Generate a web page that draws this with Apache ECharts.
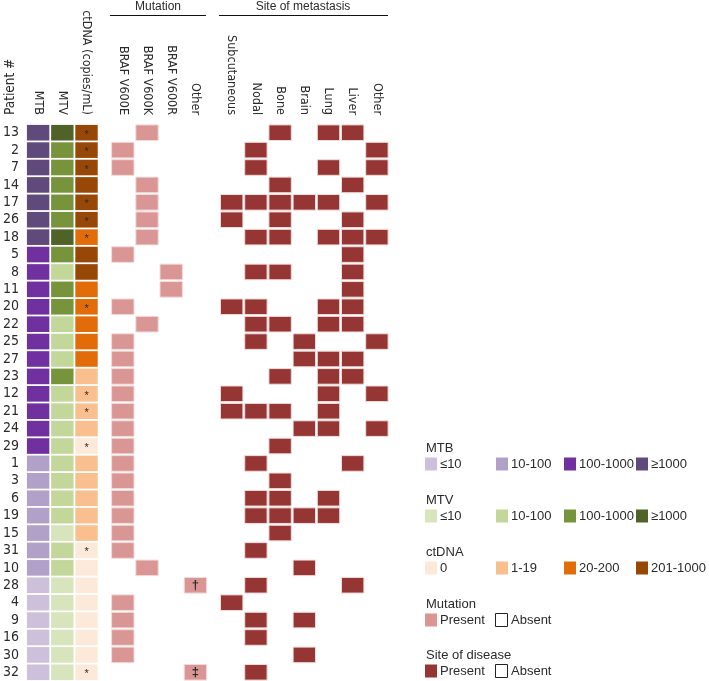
<!DOCTYPE html>
<html>
<head>
<meta charset="utf-8">
<script src="https://cdn.jsdelivr.net/npm/echarts@6/dist/echarts.min.js"></script>
<style>
  html, body { margin: 0; padding: 0; background: #fff; }
  #main { width: 709px; height: 681px; }
</style>
</head>
<body>
<div id="main"></div>
<script>
  // patients, top to bottom
  const patients = ['13','2','7','14','17','26','18','5','8','11','20','22','25','27','23','12',
                    '21','24','29','1','3','6','19','15','31','10','28','4','9','16','30','32'];
  // level 1..4 = first..last legend bin
  const mtbLevel   = [4,4,4,4,4,4,4,3,3,3,3,3,3,3,3,3,3,3,3,2,2,2,2,2,2,2,1,1,1,1,1,1];
  const mtvLevel   = [4,3,3,3,3,3,4,3,2,3,3,2,2,2,3,2,2,2,2,2,2,2,2,1,2,2,1,1,1,1,1,1];
  const ctdnaLevel = [4,4,4,4,4,4,3,4,4,3,3,3,3,3,2,2,2,2,1,2,2,2,2,2,1,1,1,1,1,1,1,1];
  const ctdnaStar  = ['13','2','7','17','26','18','20','12','21','29','31','32'];
  const mutation   = ['V600K','V600E','V600E','V600K','V600K','V600K','V600K','V600E','V600R','V600R',
                      'V600E','V600K','V600E','V600E','V600E','V600E','V600E','V600E','V600E','V600E',
                      'V600E','V600E','V600E','V600E','V600E','V600K','Other','V600E','V600E','V600E',
                      'V600E','Other'];
  const mutationNote = [['28','†'], ['32','‡']];
  const sites = [
    ['Bone','Lung','Liver'],
    ['Nodal','Other'],
    ['Nodal','Lung','Other'],
    ['Bone','Liver'],
    ['Subcutaneous','Nodal','Bone','Brain','Lung','Other'],
    ['Subcutaneous','Bone','Liver'],
    ['Nodal','Bone','Lung','Liver','Other'],
    ['Liver'],
    ['Nodal','Bone','Liver'],
    ['Liver'],
    ['Subcutaneous','Nodal','Lung','Liver'],
    ['Nodal','Bone','Lung','Liver'],
    ['Nodal','Brain','Other'],
    ['Brain','Lung','Liver'],
    ['Bone','Lung','Liver'],
    ['Subcutaneous','Lung','Other'],
    ['Subcutaneous','Nodal','Bone','Lung'],
    ['Brain','Lung','Other'],
    ['Bone'],
    ['Nodal','Liver'],
    ['Bone'],
    ['Nodal','Bone','Lung'],
    ['Nodal','Bone','Brain','Lung'],
    ['Bone'],
    ['Nodal'],
    ['Brain'],
    ['Nodal','Liver'],
    ['Subcutaneous'],
    ['Nodal','Brain'],
    ['Nodal'],
    ['Brain'],
    ['Nodal']
  ];
  const mtbBins   = ['≤10','10-100','100-1000','≥1000'];
  const mtvBins   = ['≤10','10-100','100-1000','≥1000'];
  const ctdnaBins = ['0','1-19','20-200','201-1000'];

  // colours
  const mtbColors   = ['#ccc0da','#b1a0c7','#7030a0','#604a7b'];
  const mtvColors   = ['#d8e4bc','#c4d79b','#77933c','#4f6228'];
  const ctdnaColors = ['#fde9d9','#fabf8f','#e26b0a','#974706'];
  const mutColor  = '#da9694';
  const siteColor = '#963634';

  // column layout (x position on the value axis)
  const cols = [
    {key:'MTB', label:'MTB', x:0},
    {key:'MTV', label:'MTV', x:1},
    {key:'ctDNA', label:'ctDNA (copies/mL)', x:2},
    {key:'V600E', label:'BRAF V600E', x:3.5},
    {key:'V600K', label:'BRAF V600K', x:4.5},
    {key:'V600R', label:'BRAF V600R', x:5.5},
    {key:'Other', label:'Other', x:6.5},
    {key:'Subcutaneous', label:'Subcutaneous', x:8},
    {key:'Nodal', label:'Nodal', x:9},
    {key:'Bone', label:'Bone', x:10},
    {key:'Brain', label:'Brain', x:11},
    {key:'Lung', label:'Lung', x:12},
    {key:'Liver', label:'Liver', x:13},
    {key:'SiteOther', label:'Other', x:14}
  ];
  const colX = k => cols.find(c => c.key === k).x;

  const narrow = "'Liberation Sans Narrow', 'DejaVu Sans Condensed', 'Liberation Sans', Arial, sans-serif";
  const sans = "'Liberation Sans', Arial, sans-serif";
  const ink = '#2b2b2b';

  function cellSeries(name, items, stroke) {
    return {
      type: 'custom',
      name: name,
      silent: true,
      data: items.map(d => ({value: [d.x, d.row]})),
      renderItem: function (params, api) {
        const d = items[params.dataIndex];
        const c = api.coord([api.value(0), api.value(1)]);
        const s = api.size([1, 1]);
        const w = s[0] - 1.8, h = s[1] - 1.8;
        const children = [{
          type: 'rect',
          shape: {x: c[0] - w / 2, y: c[1] - h / 2, width: w, height: h},
          style: {fill: d.color, stroke: stroke || null, lineWidth: stroke ? 1 : 0}
        }];
        if (d.mark) {
          children.push({
            type: 'text',
            x: c[0], y: c[1] + (d.mark === '*' ? 2 : 0),
            style: {text: d.mark, fill: ink, font: (d.mark === '*' ? '11px ' : 'bold 13px ') + sans,
                    align: 'center', verticalAlign: 'middle'}
          });
        }
        return {type: 'group', children: children};
      }
    };
  }

  const mtbItems = patients.map((p, i) => ({x: colX('MTB'), row: i, color: mtbColors[mtbLevel[i] - 1]}));
  const mtvItems = patients.map((p, i) => ({x: colX('MTV'), row: i, color: mtvColors[mtvLevel[i] - 1]}));
  const ctItems = patients.map((p, i) => ({x: colX('ctDNA'), row: i, color: ctdnaColors[ctdnaLevel[i] - 1],
                                           mark: ctdnaStar.includes(p) ? '*' : ''}));
  const mutItems = patients.map((p, i) => {
    const note = mutationNote.find(n => n[0] === p);
    return {x: colX(mutation[i]), row: i, color: mutColor, mark: note ? note[1] : ''};
  });
  const siteItems = [];
  sites.forEach((list, i) => list.forEach(s => {
    siteItems.push({x: colX(s === 'Other' ? 'SiteOther' : s), row: i, color: siteColor});
  }));

  // legend built as graphics
  const graphics = [];
  function text(x, y, str, font, align) {
    graphics.push({type: 'text', x: x, y: y,
      style: {text: str, font: font, fill: ink, align: align || 'left', verticalAlign: 'middle'}});
  }
  function box(x, y, fill, stroke) {
    graphics.push({type: 'rect', shape: {x: x, y: y - 6.5, width: 12, height: 13},
      style: {fill: fill, stroke: stroke || null, lineWidth: stroke ? 1 : 0}});
  }
  const binX = [425, 496, 564, 636];
  [[mtbBins, mtbColors, 'MTB', 448], [mtvBins, mtvColors, 'MTV', 500], [ctdnaBins, ctdnaColors, 'ctDNA', 552]]
    .forEach(g => {
      text(426, g[3], g[2], '13px ' + sans);
      g[0].forEach((b, k) => {
        box(binX[k], g[3] + 16, g[1][k]);
        text(binX[k] + 15, g[3] + 16, b, '13px ' + sans);
      });
    });
  [['Mutation', mutColor, 604], ['Site of disease', siteColor, 655]].forEach(g => {
    text(426, g[2], g[0], '13px ' + sans);
    box(425, g[2] + 16, g[1]);
    text(440, g[2] + 16, 'Present', '13px ' + sans);
    box(495.5, g[2] + 16, '#fff', '#222');
    text(511, g[2] + 16, 'Absent', '13px ' + sans);
  });
  // header groups
  text(158, 7, 'Mutation', '12px ' + sans, 'center');
  text(303, 7, 'Site of metastasis', '12px ' + sans, 'center');
  graphics.push({type: 'line', shape: {x1: 110, y1: 15.5, x2: 206, y2: 15.5}, style: {stroke: '#111', lineWidth: 1}});
  graphics.push({type: 'line', shape: {x1: 219, y1: 15.5, x2: 388, y2: 15.5}, style: {stroke: '#111', lineWidth: 1}});
  graphics.push({type: 'text', x: 10, y: 115, rotation: Math.PI / 2,
    style: {text: 'Patient #', font: '13.5px ' + narrow, fill: ink, align: 'left', verticalAlign: 'middle'}});

  const chart = echarts.init(document.getElementById('main'));
  chart.setOption({
    animation: false,
    backgroundColor: '#fff',
    grid: {left: 24.5, top: 124, width: 364.5, height: 557},
    xAxis: {
      type: 'value', position: 'top', min: -0.5, max: 14.5, interval: 0.5,
      splitLine: {show: false}, axisLine: {show: false}, axisTick: {show: false},
      axisLabel: {
        rotate: 90, margin: 9, fontSize: 12.5, fontFamily: narrow, color: ink,
        showMinLabel: true, showMaxLabel: true,
        formatter: function (v) {
          const c = cols.find(c => Math.abs(c.x - v) < 1e-6);
          return c ? c.label : '';
        }
      }
    },
    yAxis: {
      type: 'category', inverse: true, data: patients,
      axisLine: {show: false}, axisTick: {show: false}, splitLine: {show: false},
      axisLabel: {fontSize: 14, fontFamily: narrow, color: ink, margin: 7, interval: 0}
    },
    graphic: graphics,
    series: [
      cellSeries('MTB', mtbItems),
      cellSeries('MTV', mtvItems),
      cellSeries('ctDNA', ctItems),
      cellSeries('Mutation', mutItems, '#f2dcdb'),
      cellSeries('Site', siteItems, '#f2dcdb')
    ]
  });
</script>
</body>
</html>
